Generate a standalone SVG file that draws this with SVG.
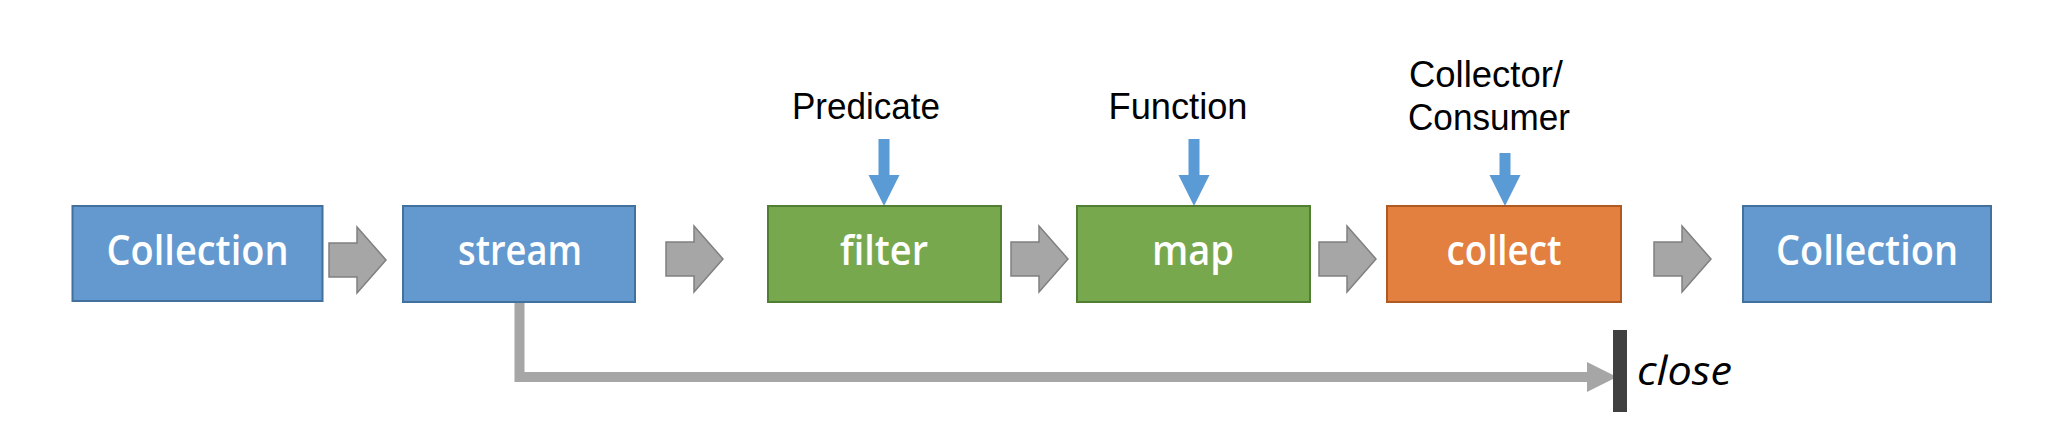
<svg xmlns="http://www.w3.org/2000/svg" width="2064" height="438" viewBox="0 0 2064 438">
<style>
.box{stroke-width:2}
.blue{fill:#6399cf;stroke:#41719c}
.green{fill:#78a84e;stroke:#507e32}
.orange{fill:#e3803f;stroke:#ae5a21}
.lbl{font-family:"Open Sans","Noto Sans",sans-serif;font-size:42px;font-weight:600;fill:#ffffff;text-anchor:middle}
.top{font-family:"Liberation Sans","Noto Sans",sans-serif;font-size:37px;fill:#000000;text-anchor:middle}
.blk{fill:#a6a6a6;stroke:#808080;stroke-width:1.5}
.inp{fill:#5b9bd5}
.conn{fill:none;stroke:#a6a6a6;stroke-width:10}
</style>
<defs>
<polygon id="blockArrow" points="0,-17 28,-17 28,-33 57,0 28,33 28,17 0,17"/>
<polygon id="downArrow" points="-5.5,0 5.5,0 5.5,36 15.5,36 0,67 -15.5,36 -5.5,36"/>
</defs>
<rect width="2064" height="438" fill="#ffffff"/>

<g id="connectors">
<use href="#blockArrow" class="blk" x="329" y="260"/>
<use href="#blockArrow" class="blk" x="666" y="259"/>
<use href="#blockArrow" class="blk" x="1011" y="259"/>
<use href="#blockArrow" class="blk" x="1319" y="259"/>
<use href="#blockArrow" class="blk" x="1654" y="259"/>
<use href="#downArrow" class="inp" x="884" y="139"/>
<use href="#downArrow" class="inp" x="1194" y="139"/>
<polygon class="inp" points="1499.5,153 1510.5,153 1510.5,175 1520.5,175 1505,206 1489.5,175 1499.5,175"/>
<path class="conn" d="M519.5,302 V377 H1590"/>
<polygon points="1587,362 1617,377 1587,392" fill="#a6a6a6"/>
<rect x="1613" y="330" width="14" height="82" fill="#404040"/>
<text x="1637" y="385" font-family="'Open Sans','Noto Sans',sans-serif" font-size="40" font-style="italic" font-weight="400" fill="#000000" textLength="95" lengthAdjust="spacingAndGlyphs">close</text>
</g>

<g id="collection-in">
<rect class="box blue" x="72.5" y="206" width="250" height="95"/>
<text class="lbl" x="197.5" y="265" textLength="182" lengthAdjust="spacingAndGlyphs">Collection</text>
</g>
<g id="stream">
<rect class="box blue" x="403" y="206" width="232" height="96"/>
<text class="lbl" x="520" y="265" textLength="124" lengthAdjust="spacingAndGlyphs">stream</text>
</g>
<g id="filter">
<rect class="box green" x="768" y="206" width="233" height="96"/>
<text class="lbl" x="884" y="265" textLength="88" lengthAdjust="spacingAndGlyphs">filter</text>
<text class="top" x="866" y="119" textLength="148" lengthAdjust="spacingAndGlyphs">Predicate</text>
</g>
<g id="map">
<rect class="box green" x="1077" y="206" width="233" height="96"/>
<text class="lbl" x="1193" y="265" textLength="82" lengthAdjust="spacingAndGlyphs">map</text>
<text class="top" x="1178" y="119" textLength="139" lengthAdjust="spacingAndGlyphs">Function</text>
</g>
<g id="collect">
<rect class="box orange" x="1387" y="206" width="234" height="96"/>
<text class="lbl" x="1504" y="265" textLength="115" lengthAdjust="spacingAndGlyphs">collect</text>
<text class="top" x="1486" y="87" textLength="154" lengthAdjust="spacingAndGlyphs">Collector/</text>
<text class="top" x="1489" y="130" textLength="162" lengthAdjust="spacingAndGlyphs">Consumer</text>
</g>
<g id="collection-out">
<rect class="box blue" x="1743" y="206" width="248" height="96"/>
<text class="lbl" x="1867" y="265" textLength="182" lengthAdjust="spacingAndGlyphs">Collection</text>
</g>
</svg>
